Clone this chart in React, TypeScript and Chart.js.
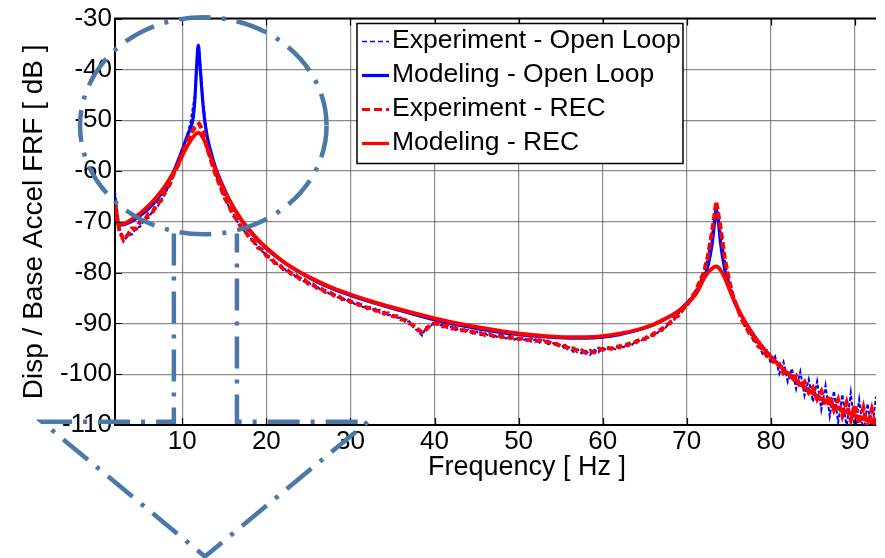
import React, { useEffect, useRef } from 'react';
import { Chart, registerables } from 'chart.js';

Chart.register(...registerables);

const FONT = '"Liberation Sans", Arial, Helvetica, sans-serif';

// ---- axes ----
const X_MIN = 2;
const X_MAX = 92.5;
const Y_MIN = -110;
const Y_MAX = -30;
const xTickValues = [10, 20, 30, 40, 50, 60, 70, 80, 90];
const xTickLabels = ['10', '20', '30', '40', '50', '60', '70', '80', '90'];
const yTickValues = [-110, -100, -90, -80, -70, -60, -50, -40, -30];
const yTickLabels = ['-110', '-100', '-90', '-80', '-70', '-60', '-50', '-40', '-30'];
const xTitle = 'Frequency [ Hz ]';
const yTitle = 'Disp / Base Accel FRF [ dB ]';
const xTitleCenterHz = 51; // the original axes extend past the cropped right edge

const seriesLabels = [
  'Experiment - Open Loop',
  'Modeling - Open Loop',
  'Experiment - REC',
  'Modeling - REC',
];

// ---- experimental data (measured, noisy) ----
const freqExp = [
  2, 2.5, 3, 3.5, 4, 4.5, 5, 5.5, 6, 6.5, 7, 7.5, 8, 8.5, 9, 9.5, 10,
  10.5, 11, 11.5, 12, 12.5, 13, 13.5, 14,
  14.5, 15, 15.5, 16, 16.5, 17, 17.5, 18, 18.5, 19, 19.5, 20,
  20.5, 21, 21.5, 22, 22.5, 23, 23.5, 24, 24.5, 25, 25.5, 26, 26.5, 27, 27.5, 28, 28.5, 29, 29.5, 30,
  30.5, 31, 31.5, 32, 32.5, 33, 33.5, 34, 34.5, 35, 35.5, 36, 36.5, 37, 37.5, 38, 38.5, 39, 39.5, 40,
  40.5, 41, 41.5, 42, 42.5, 43, 43.5, 44, 44.5, 45, 45.5, 46, 46.5, 47, 47.5, 48, 48.5, 49, 49.5, 50,
  50.5, 51, 51.5, 52, 52.5, 53, 53.5, 54, 54.5, 55, 55.5, 56, 56.5, 57, 57.5, 58, 58.5, 59, 59.5, 60,
  60.5, 61, 61.5, 62, 62.5, 63, 63.5, 64, 64.5, 65, 65.5, 66, 66.5, 67, 67.5, 68, 68.5, 69, 69.5, 70,
  70.5, 71, 71.5, 72, 72.5, 73, 73.5, 74, 74.5, 75, 75.5, 76, 76.5, 77, 77.5, 78, 78.5, 79, 79.5, 80,
  80.5, 81, 81.5, 82, 82.5, 83, 83.5, 84, 84.5, 85, 85.5, 86, 86.5, 87, 87.5, 88, 88.5, 89, 89.5, 90,
  90.5, 91, 91.5, 92, 92.5,
];

const expOpenLoop = [
  -64.0, -71.2, -73.9, -72.8, -72.5, -71.3, -70.9, -69.6, -69.2, -67.8, -67.3, -65.6, -64.5, -62.4, -60.8, -58.3, -56.4,
  -53.4, -50.3, -44.9, -35.3, -46.6, -53.8, -57.4, -60.8,
  -63.1, -64.8, -66.9, -68.1, -69.9, -70.7, -72.2, -72.8, -74.2, -74.7, -75.9, -76.3,
  -77.5, -77.7, -78.8, -78.9, -79.9, -79.9, -80.9, -80.9, -81.8, -81.8, -82.7, -82.6, -83.5, -83.4, -84.2, -84.1, -84.9, -84.8, -85.6, -85.4,
  -86.2, -86.0, -86.8, -86.6, -87.3, -87.1, -87.9, -87.7, -88.4, -88.2, -89.0, -88.8, -89.7, -89.6, -90.8, -91.5, -92.4, -90.7, -90.6, -89.7,
  -90.5, -90.2, -90.9, -90.6, -91.3, -91.0, -91.7, -91.3, -92.0, -91.6, -92.3, -91.9, -92.6, -92.1, -92.8, -92.3, -93.0, -92.5, -93.2, -92.7,
  -93.4, -92.9, -93.6, -93.1, -93.8, -93.3, -94.1, -93.7, -94.5, -94.1, -95.0, -94.7, -95.6, -95.1, -95.9, -95.4, -96.2, -95.2, -95.7, -94.8,
  -95.3, -94.6, -95.1, -94.3, -94.7, -93.9, -94.2, -93.3, -93.6, -92.7, -92.8, -91.9, -91.9, -90.9, -90.8, -89.6, -89.3, -88.1, -87.6, -86.2,
  -85.4, -83.7, -82.2, -79.9, -77.1, -72.4, -66.9, -71.6, -77.4, -81.7, -84.3, -87.3, -88.7, -91.0, -91.6, -93.8, -93.7, -96.0, -95.3, -97.9,
  -96.5, -99.9, -97.6, -101.5, -98.9, -102.9, -99.5, -104.2, -101.0, -105.4, -101.4, -107.0, -102.2, -108.3, -103.3, -109.5, -104.0, -110.6, -103.6, -111.2,
  -105.0, -111.6, -105.8, -111.3, -104.4,
];

const expREC = [
  -66.5, -71.6, -73.5, -72.6, -71.3, -71.4, -69.9, -69.8, -68.3, -68.0, -66.4, -65.8, -63.8, -62.7, -60.4, -58.9, -56.4,
  -54.7, -52.7, -51.4, -50.7, -52.2, -55.7, -58.4, -60.9,
  -62.9, -65.2, -66.6, -68.5, -69.6, -71.1, -71.9, -73.2, -73.8, -75.1, -75.5, -76.7,
  -77.0, -78.1, -78.3, -79.3, -79.5, -80.3, -80.5, -81.3, -81.4, -82.2, -82.3, -83.0, -83.1, -83.8, -83.8, -84.5, -84.5, -85.2, -85.2, -85.8,
  -85.8, -86.4, -86.4, -87.0, -86.9, -87.5, -87.5, -88.1, -88.0, -88.6, -88.6, -89.2, -89.3, -90.0, -90.4, -91.1, -91.8, -91.2, -90.3, -90.0,
  -90.1, -90.6, -90.5, -91.0, -90.9, -91.4, -91.3, -91.7, -91.6, -92.0, -91.9, -92.3, -92.1, -92.5, -92.3, -92.7, -92.5, -92.9, -92.7, -93.1,
  -92.9, -93.3, -93.1, -93.5, -93.3, -93.7, -93.6, -94.1, -94.0, -94.5, -94.4, -95.1, -94.9, -95.5, -95.3, -95.8, -95.4, -95.7, -95.0, -95.2,
  -94.7, -95.0, -94.5, -94.7, -94.1, -94.3, -93.6, -93.7, -93.0, -93.1, -92.3, -92.3, -91.4, -91.3, -90.3, -90.0, -88.9, -88.5, -87.2, -86.6,
  -85.0, -83.9, -81.9, -80.1, -76.8, -72.0, -66.0, -71.0, -77.0, -81.3, -84.7, -86.8, -89.2, -90.5, -92.2, -93.0, -94.5, -95.0, -96.4, -96.5,
  -98.2, -98.0, -99.8, -99.2, -101.3, -100.4, -102.5, -101.5, -103.6, -102.6, -104.9, -103.4, -106.1, -104.2, -107.0, -105.0, -108.2, -105.6, -109.0, -106.0,
  -109.8, -106.6, -110.4, -107.0, -110.6,
];

// ---- model data (smooth) ----
const freqModel = [
  2, 2.3, 2.6, 3, 3.5, 4, 5, 6, 7, 8, 9, 10,
  10.5, 11, 11.3, 11.5, 11.7, 11.9, 12.1, 12.3, 12.5, 12.7,
  13, 13.5, 14, 15, 16, 17, 18, 19, 20,
  22, 24, 26, 28, 30, 33, 36, 40,
  44, 48, 52, 56, 58, 60, 62, 64, 66, 68,
  69, 70, 71, 71.5, 72, 72.5, 73, 73.25, 73.5, 73.75, 74, 74.5,
  75, 75.5, 76, 77, 78, 79, 80,
  82, 84, 86, 88, 90, 92.5,
];

const modelOpenLoop = [
  -67.0, -70.0, -70.6, -70.6, -70.3, -69.9, -68.8, -67.4, -65.6, -63.2, -60.0, -55.8,
  -53.5, -51.5, -49.5, -46.0, -39.5, -35.2, -39.0, -43.5, -47.5, -50.5,
  -53.5, -56.8, -59.5, -63.5, -66.9, -69.6, -71.8, -73.7, -75.3,
  -77.9, -80.0, -81.8, -83.3, -84.5, -86.1, -87.5, -89.3,
  -90.7, -91.8, -92.5, -92.9, -92.9, -92.7, -92.2, -91.4, -90.3, -88.6,
  -87.5, -86.0, -84.2, -82.9, -81.2, -78.8, -74.5, -71.0, -67.5, -70.0, -74.0, -79.3,
  -82.7, -85.1, -87.0, -89.9, -92.4, -94.6, -96.5,
  -99.8, -102.5, -104.8, -106.6, -108.1, -109.6,
];

const modelREC = [
  -66.5, -69.8, -70.4, -70.4, -70.0, -69.5, -68.3, -66.8, -65.0, -62.8, -60.2, -57.0,
  -55.4, -54.0, -53.3, -52.9, -52.6, -52.5, -52.6, -53.0, -53.6, -54.3,
  -55.6, -57.8, -60.0, -63.8, -66.9, -69.5, -71.6, -73.5, -75.1,
  -77.8, -79.9, -81.6, -83.1, -84.3, -85.9, -87.3, -89.0,
  -90.4, -91.5, -92.3, -92.7, -92.7, -92.5, -92.0, -91.3, -90.2, -88.6,
  -87.6, -86.2, -84.4, -83.0, -81.3, -80.0, -79.2, -78.9, -78.8, -79.0, -79.5, -81.0,
  -83.0, -85.0, -86.8, -89.9, -92.5, -94.7, -96.6,
  -99.9, -102.6, -104.9, -106.7, -108.2, -109.7,
];

// ---- annotation (in data units: Hz, dB) ----
const ellipseCenter = [12.5, -51.1];
const ellipseRadii = [14.66, 21.37];
const calloutX = [9.0, 9.0, -6.7, 12.7, 32.1, 16.5, 16.5];
const calloutY = [-72.3, -109.35, -109.35, -135.9, -109.35, -109.35, -72.3];

const BLUE = '#0000ff';
const RED = '#ff0000';
const ANNOT = '#4a78a8';

const legendStyles = [
  { color: BLUE, width: 1.6, dash: [5, 3] },
  { color: BLUE, width: 3.2, dash: [] as number[] },
  { color: RED, width: 3.2, dash: [8, 4] },
  { color: RED, width: 3.2, dash: [] as number[] },
];

function toXY(xs: number[], ys: number[]) {
  return xs.map((x, i) => ({ x, y: ys[i] }));
}

export default function App() {
  const ref = useRef<HTMLCanvasElement>(null);

  useEffect(() => {
    const canvas = ref.current;
    if (!canvas) return;

    const decor = {
      id: 'decor',
      afterDraw(chart: any) {
        const ctx: CanvasRenderingContext2D = chart.ctx;
        const { left, right, top, bottom } = chart.chartArea;
        const xs = chart.scales.x;
        const ys = chart.scales.y;
        ctx.save();

        // top border
        ctx.strokeStyle = '#000';
        ctx.lineWidth = 2;
        ctx.setLineDash([]);
        ctx.beginPath();
        ctx.moveTo(left - 1, top);
        ctx.lineTo(right, top);
        ctx.stroke();

        // inward tick marks
        ctx.lineWidth = 1.2;
        ctx.beginPath();
        xTickValues.forEach((v) => {
          const px = Math.round(xs.getPixelForValue(v)) + 0.5;
          ctx.moveTo(px, bottom);
          ctx.lineTo(px, bottom - 7);
          ctx.moveTo(px, top);
          ctx.lineTo(px, top + 7);
        });
        yTickValues.forEach((v) => {
          const py = Math.round(ys.getPixelForValue(v)) + 0.5;
          ctx.moveTo(left, py);
          ctx.lineTo(left + 7, py);
        });
        ctx.stroke();

        // axis titles
        ctx.fillStyle = '#000';
        ctx.textAlign = 'center';
        ctx.textBaseline = 'alphabetic';
        ctx.font = `27px ${FONT}`;
        ctx.fillText(xTitle, xs.getPixelForValue(xTitleCenterHz), 475);

        ctx.save();
        ctx.translate(42, (top + bottom) / 2);
        ctx.rotate(-Math.PI / 2);
        ctx.font = `28px ${FONT}`;
        ctx.fillText(yTitle, 0, 0);
        ctx.restore();

        // legend
        const lx = 357, ly = 23.5, lw = 326, lh = 140;
        ctx.fillStyle = '#fff';
        ctx.fillRect(lx, ly, lw, lh);
        ctx.strokeStyle = '#000';
        ctx.lineWidth = 1.5;
        ctx.strokeRect(lx, ly, lw, lh);
        ctx.font = `26.5px ${FONT}`;
        ctx.textAlign = 'left';
        seriesLabels.forEach((label, i) => {
          const base = 48.3 + i * 34;
          const st = legendStyles[i];
          ctx.strokeStyle = st.color;
          ctx.lineWidth = st.width;
          ctx.setLineDash(st.dash);
          ctx.beginPath();
          ctx.moveTo(362, base - 6.8);
          ctx.lineTo(389, base - 6.8);
          ctx.stroke();
          ctx.setLineDash([]);
          ctx.fillStyle = '#000';
          ctx.fillText(label, 392, base);
        });

        // annotation: dash-dot ellipse and callout
        ctx.strokeStyle = ANNOT;
        ctx.lineWidth = 4.5;
        ctx.lineCap = 'butt';
        ctx.setLineDash([32, 11, 4, 11]);
        const cx = xs.getPixelForValue(ellipseCenter[0]);
        const cy = ys.getPixelForValue(ellipseCenter[1]);
        const rx = xs.getPixelForValue(ellipseCenter[0] + ellipseRadii[0]) - cx;
        const ry = ys.getPixelForValue(ellipseCenter[1] - ellipseRadii[1]) - cy;
        ctx.beginPath();
        ctx.ellipse(cx, cy, rx, ry, 0, 0, Math.PI * 2);
        ctx.stroke();

        ctx.beginPath();
        calloutX.forEach((x, i) => {
          const px = xs.getPixelForValue(x);
          const py = ys.getPixelForValue(calloutY[i]);
          if (i === 0) ctx.moveTo(px, py);
          else ctx.lineTo(px, py);
        });
        ctx.stroke();

        ctx.restore();
      },
    };

    const tickFont = { family: FONT, size: 26 };
    const gridColor = 'rgba(90,90,90,0.7)';

    const chart = new Chart(canvas, {
      type: 'line',
      data: {
        datasets: [
          {
            label: seriesLabels[0],
            data: toXY(freqExp, expOpenLoop),
            borderColor: BLUE,
            borderWidth: 2,
            borderDash: [4, 2],
            pointRadius: 0,
            tension: 0,
            order: 4,
          },
          {
            label: seriesLabels[1],
            data: toXY(freqModel, modelOpenLoop),
            borderColor: BLUE,
            borderWidth: 3.2,
            pointRadius: 0,
            cubicInterpolationMode: 'monotone',
            order: 3,
          },
          {
            label: seriesLabels[2],
            data: toXY(freqExp, expREC),
            borderColor: RED,
            borderWidth: 4,
            borderDash: [7, 3],
            pointRadius: 0,
            tension: 0,
            order: 2,
          },
          {
            label: seriesLabels[3],
            data: toXY(freqModel, modelREC),
            borderColor: RED,
            borderWidth: 3.8,
            pointRadius: 0,
            cubicInterpolationMode: 'monotone',
            order: 1,
          },
        ] as any,
      },
      options: {
        responsive: false,
        animation: false,
        devicePixelRatio: 1,
        layout: { padding: { top: 18, right: 9, left: 0, bottom: 0 } },
        plugins: {
          legend: { display: false },
          tooltip: { enabled: false },
          title: { display: false },
        },
        scales: {
          x: {
            type: 'linear',
            min: X_MIN,
            max: X_MAX,
            afterBuildTicks: (s: any) => {
              s.ticks = xTickValues.map((v) => ({ value: v }));
            },
            afterFit: (s: any) => {
              s.height = 133;
            },
            ticks: {
              callback: (v: any) => xTickLabels[xTickValues.indexOf(v)],
              font: tickFont,
              color: '#000',
              padding: 1,
              maxRotation: 0,
              autoSkip: false,
            },
            grid: { color: gridColor, lineWidth: 1.2, drawTicks: false },
            border: { display: true, color: '#000', width: 2 },
          },
          y: {
            type: 'linear',
            min: Y_MIN,
            max: Y_MAX,
            afterBuildTicks: (s: any) => {
              s.ticks = yTickValues.map((v) => ({ value: v }));
            },
            afterFit: (s: any) => {
              s.width = 115;
            },
            ticks: {
              callback: (v: any) => yTickLabels[yTickValues.indexOf(v)],
              font: tickFont,
              color: '#000',
              padding: 3,
              autoSkip: false,
            },
            grid: { color: gridColor, lineWidth: 1.2, drawTicks: false },
            border: { display: true, color: '#000', width: 2 },
          },
        },
      } as any,
      plugins: [decor],
    });

    return () => chart.destroy();
  }, []);

  return (
    <div style={{ position: 'absolute', left: 0, top: 0, width: 885, height: 558, background: '#fff' }}>
      <canvas ref={ref} width={885} height={558} style={{ display: 'block', width: 885, height: 558 }} />
    </div>
  );
}
